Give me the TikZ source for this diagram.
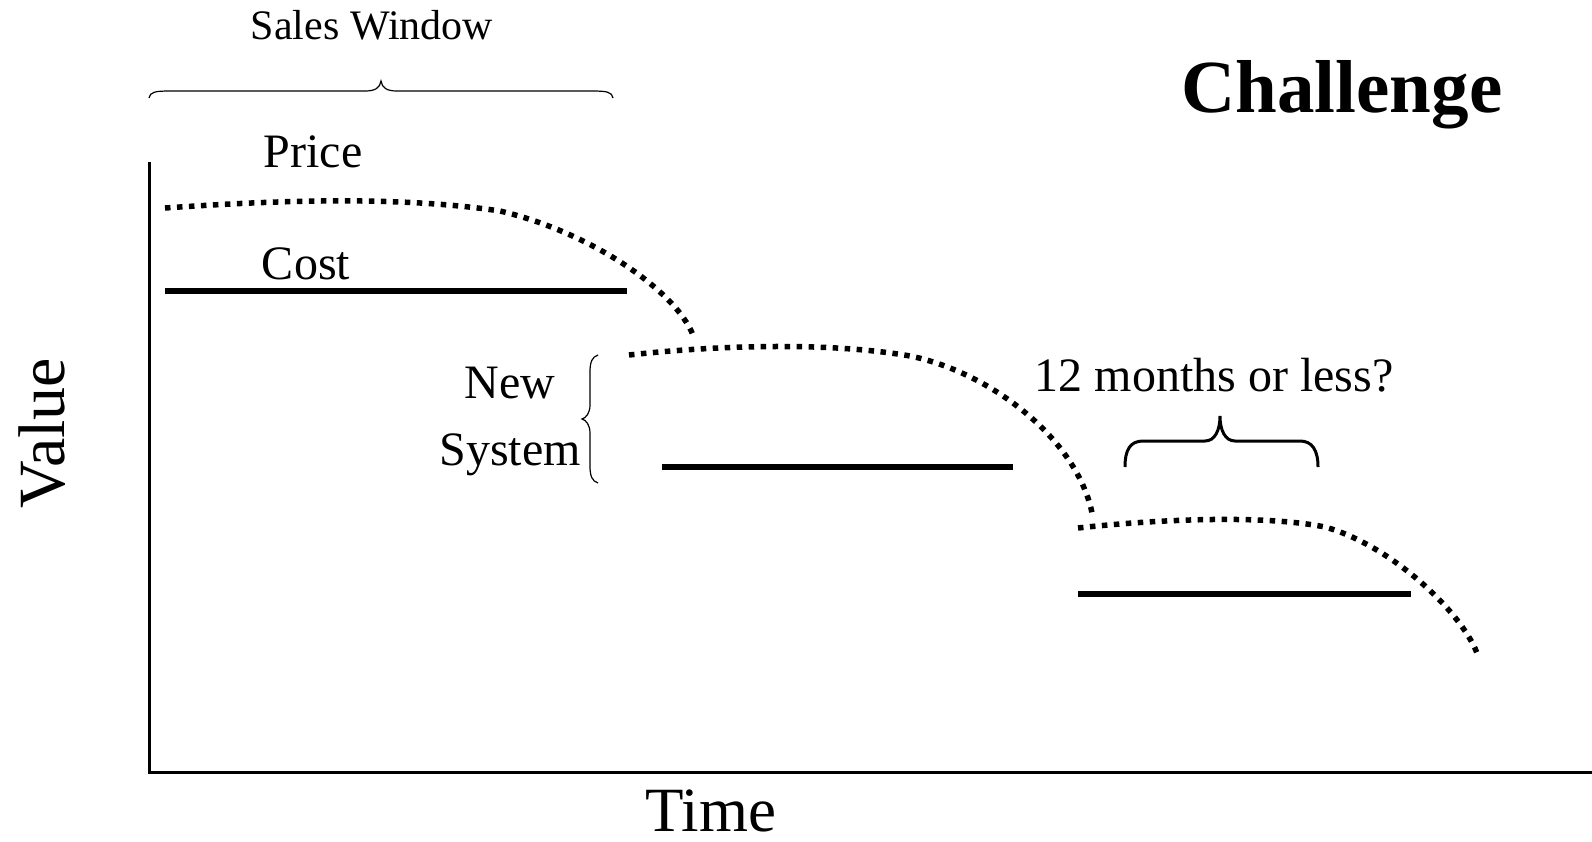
\documentclass[tikz,border=0pt]{standalone}
\usepackage{fontspec}
\setmainfont{Liberation Serif}
\begin{document}
\begin{tikzpicture}[x=1pt,y=-1pt,
  axisline/.style={line width=3pt},
  costline/.style={line width=5.5pt},
  priceline/.style={line width=5.5pt, dash pattern=on 5.5pt off 6.5pt},
  thinbrace/.style={line width=1.2pt},
  thickbrace/.style={line width=3pt},
  lbl/.style={inner sep=0pt, anchor=base, font=\fontsize{48}{50}\selectfont}]
\useasboundingbox (0,0) rectangle (1592,841);
% axes
\coordinate (ytop) at (149,162);
\coordinate (orig) at (149,772);
\coordinate (xend) at (1592,772);
\draw[axisline] (ytop) -- (orig) -- (xend);
% labels
\node[inner sep=0pt, anchor=base, rotate=90, font=\fontsize{66}{68}\selectfont] (value) at (64,433) {Value};
\node[inner sep=0pt, anchor=base, font=\fontsize{63}{65}\selectfont] (time) at (711,831) {Time};
\node[inner sep=0pt, anchor=base, font=\fontsize{75}{77}\selectfont\bfseries] (chal) at (1342,112) {Challenge};
\node[inner sep=0pt, anchor=base, font=\fontsize{42}{44}\selectfont] (sales) at (372,39) {Sales Window};
\node[lbl] (price) at (313,167) {Price};
\node[lbl] (cost) at (306,279) {Cost};
\node[lbl] (new) at (510,398) {New};
\node[lbl] (system) at (510,465) {System};
\node[lbl] (months) at (1214,391) {12 months or less?};
% cost lines
\draw[costline] (165,291) -- (627,291);
\draw[costline] (662,467) -- (1013,467);
\draw[costline] (1078,594) -- (1411,594);
% price curves
\draw[priceline] (165,208) .. controls (280,200) and (400,196) .. (500,211)
  .. controls (590,232) and (675,290) .. (693,335);
\draw[priceline] (629,355) .. controls (720,345) and (830,342) .. (910,356)
  .. controls (990,372) and (1080,440) .. (1093,518);
\draw[priceline] (1078,528) .. controls (1150,520) and (1260,514) .. (1325,527)
  .. controls (1390,545) and (1460,610) .. (1477,653);
% sales window brace
\draw[thinbrace] (149,98) .. controls (150,92) and (155,91) .. (170,91) -- (365,91)
  .. controls (375,91) and (380,88) .. (381,81)
  .. controls (382,88) and (387,91) .. (397,91) -- (592,91)
  .. controls (607,91) and (612,92) .. (613,98);
% new system brace
\draw[thinbrace] (598,355) .. controls (592,357) and (590,362) .. (590,372) -- (590,405)
  .. controls (590,413) and (586,418) .. (582,419)
  .. controls (586,420) and (590,425) .. (590,433) -- (590,466)
  .. controls (590,476) and (592,481) .. (598,483);
% 12 months brace
\draw[thickbrace] (1125,467) .. controls (1125,450) and (1130,441) .. (1143,441) -- (1205,441)
  .. controls (1215,441) and (1220,430) .. (1220,416)
  .. controls (1220,430) and (1225,441) .. (1235,441) -- (1300,441)
  .. controls (1312,441) and (1318,450) .. (1318,467);
\end{tikzpicture}
\end{document}
